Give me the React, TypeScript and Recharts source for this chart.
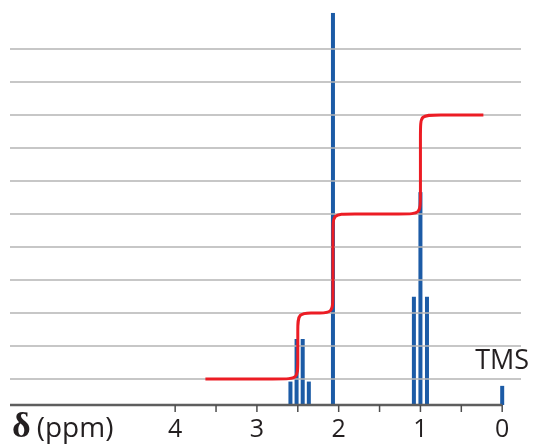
import React from "react";
import {
  ComposedChart,
  Bar,
  Line,
  XAxis,
  YAxis,
  ReferenceLine,
  ReferenceDot,
  Label,
} from "recharts";

// peak positions (ppm) and heights (grid units above baseline)
const peakShifts = [2.59, 2.515, 2.44, 2.365, 2.07, 1.08, 1.0, 0.92, 0.0];
const peakHeights = [0.71, 2.0, 2.0, 0.71, 11.88, 3.28, 6.45, 3.28, 0.58];

// integration trace (corners included)
const integralShifts = [
  3.63, 2.68, 2.5, 2.5, 2.5, 2.5, 2.32, 2.25, 2.07, 2.07, 2.07, 2.07, 1.89,
  1.18, 1.0, 1.0, 1.0, 1.0, 0.82, 0.23,
];
const integralLevels = [
  0.79, 0.79, 0.79, 1.24, 2.34, 2.79, 2.79, 2.79, 2.79, 3.24, 5.34, 5.79, 5.79,
  5.79, 5.79, 6.24, 8.34, 8.79, 8.79, 8.79,
];

const xTicks = [4, 3.5, 3, 2.5, 2, 1.5, 1, 0.5, 0];
const gridLevels = [0.79, 1.79, 2.79, 3.79, 4.79, 5.79, 6.79, 7.79, 8.79, 9.79, 10.79];

const peaks = peakShifts.map((ppm, i) => ({ ppm, h: peakHeights[i] }));
const integral = integralShifts.map((ppm, i) => ({ ppm, level: integralLevels[i] }));

const BLUE = "#1c5ba6";
const RED = "#ec1c24";
const INK = "#231f20";
const SANS = "'Open Sans', sans-serif";

const PpmTick = (props: any) => {
  const { x, y, payload } = props;
  if (!Number.isInteger(payload.value)) return null;
  return (
    <text x={x} y={y + 23} textAnchor="middle" fontSize={25} fontFamily={SANS} fill={INK}>
      {payload.value}
    </text>
  );
};

const DeltaLabel = (props: any) => {
  const vb = props.viewBox || { x: 0, y: 0 };
  return (
    <text x={vb.x + 2} y={vb.y + 32} fill={INK}>
      <tspan fontFamily="'Liberation Serif', serif" fontWeight="bold" fontSize={36}>
        δ
      </tspan>
      <tspan dx={6} fontFamily={SANS} fontSize={28}>
        (ppm)
      </tspan>
    </text>
  );
};

// thin spectral line centred on the bar slot
const PeakShape = (props: any) => {
  const { x, y, width, height } = props;
  const w = 4;
  return <rect x={x + width / 2 - w / 2} y={y} width={w} height={height} fill={BLUE} />;
};

export default function App() {
  return (
    <div style={{ position: "fixed", left: 0, top: 0 }}>
      <ComposedChart
        width={534}
        height={446}
        data={peaks}
        margin={{ top: 9, right: 13, bottom: 0, left: 10 }}
      >
        <XAxis
          type="number"
          dataKey="ppm"
          domain={[-0.23, 6.02]}
          reversed
          allowDataOverflow
          ticks={xTicks}
          interval={0}
          height={41}
          axisLine={false}
          tickLine={{ stroke: "#4d4d4d", strokeWidth: 1.5 }}
          tickSize={7}
          tick={<PpmTick />}
        >
          <Label content={<DeltaLabel />} />
        </XAxis>
        <YAxis
          type="number"
          domain={[0, 12]}
          ticks={gridLevels}
          width={0}
          axisLine={false}
          tickLine={false}
          tick={false}
        />
        {gridLevels.map((v) => (
          <ReferenceLine key={v} y={v} stroke="#b4b4b4" strokeWidth={1.5} />
        ))}
        <ReferenceLine
          segment={[
            { x: 6.02, y: 0 },
            { x: 0, y: 0 },
          ]}
          stroke="#5e5e5e"
          strokeWidth={2.5}
        />
        <Bar dataKey="h" fill={BLUE} shape={<PeakShape />} isAnimationActive={false} />
        <Line
          data={integral}
          dataKey="level"
          type="basis"
          stroke={RED}
          strokeWidth={3}
          dot={false}
          isAnimationActive={false}
        />
        <ReferenceDot x={0} y={0.58} r={0} fill="none" stroke="none">
          <Label value="TMS" position="top" offset={17} fontSize={27} fontFamily={SANS} fill={INK} />
        </ReferenceDot>
      </ComposedChart>
    </div>
  );
}
